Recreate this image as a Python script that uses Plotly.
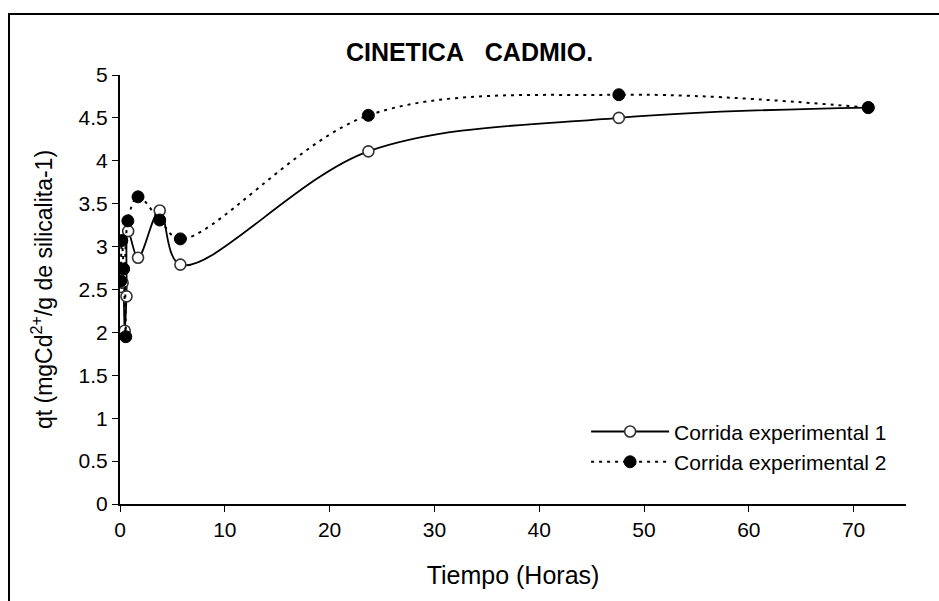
import plotly.graph_objects as go

# Data
tiempo_1 = [0.08, 0.25, 0.45, 0.62, 0.78, 1.72, 3.79, 5.76, 23.7, 47.6, 71.4]
qt_1 = [2.53, 2.58, 2.02, 2.42, 3.18, 2.87, 3.42, 2.79, 4.11, 4.50, 4.62]

tiempo_2 = [0.08, 0.17, 0.35, 0.55, 0.75, 1.72, 3.79, 5.76, 23.7, 47.6, 71.4]
qt_2 = [2.60, 3.07, 2.74, 1.95, 3.30, 3.58, 3.31, 3.09, 4.53, 4.77, 4.62]

name_1 = "Corrida experimental 1"
name_2 = "Corrida experimental 2"
title_text = "CINETICA\u00a0\u00a0\u00a0CADMIO."
x_title = "Tiempo (Horas)"
y_title = "qt (mgCd<sup>2+</sup>/g de silicalita-1)"
x_ticks = [0, 10, 20, 30, 40, 50, 60, 70]
y_ticks = [0, 0.5, 1, 1.5, 2, 2.5, 3, 3.5, 4, 4.5, 5]

FONT = "Liberation Sans, Arial, sans-serif"

fig = go.Figure()
fig.add_trace(go.Scatter(
    x=tiempo_1, y=qt_1, name=name_1, mode="lines+markers",
    line=dict(color="black", width=1.8, shape="spline", smoothing=1.0),
    marker=dict(symbol="circle", size=11, color="white",
                line=dict(color="#333333", width=1.6)),
))
fig.add_trace(go.Scatter(
    x=tiempo_2, y=qt_2, name=name_2, mode="lines+markers",
    line=dict(color="black", width=2, dash="3px,5px", shape="spline", smoothing=1.0),
    marker=dict(symbol="circle", size=12, color="black",
                line=dict(color="black", width=1)),
))

fig.update_layout(
    width=939, height=601,
    margin=dict(l=120, r=33, t=75, b=97),
    paper_bgcolor="white", plot_bgcolor="white",
    font=dict(family=FONT, size=21, color="black"),
    title=dict(text="<b>" + title_text + "</b>", x=0.5, xanchor="center",
               y=1 - 52 / 601, yanchor="middle",
               font=dict(family=FONT, size=25, color="black")),
    showlegend=True,
    legend=dict(x=0.593, y=0.216, xanchor="left", yanchor="top",
                bgcolor="rgba(0,0,0,0)", itemwidth=78,
                traceorder="normal",
                font=dict(family=FONT, size=21, color="black")),
    xaxis=dict(range=[0, 75], tickvals=x_ticks, ticks="outside", ticklen=6,
               tickwidth=1.3, tickcolor="black",
               showline=True, linecolor="black", linewidth=2,
               showgrid=False, zeroline=False,
               tickfont=dict(family=FONT, size=21),
               title=dict(text=x_title, standoff=26,
                          font=dict(family=FONT, size=25))),
    yaxis=dict(range=[0, 5], tickvals=y_ticks, ticks="outside", ticklen=6,
               tickwidth=1.3, tickcolor="black",
               showline=True, linecolor="black", linewidth=2,
               showgrid=False, zeroline=False,
               tickfont=dict(family=FONT, size=21),
               title=dict(text=y_title, standoff=20,
                          font=dict(family=FONT, size=23))),
)

# Outer chart-area border (as in the original spreadsheet chart)
pw = 939 - 120 - 33
ph = 601 - 75 - 97
fig.add_shape(type="rect", xref="paper", yref="paper",
              x0=(9 - 120) / pw, x1=(990 - 120) / pw,
              y0=(504 - 650) / ph, y1=(504 - 14) / ph,
              line=dict(color="black", width=2), layer="below")

fig.write_html("out.html")
